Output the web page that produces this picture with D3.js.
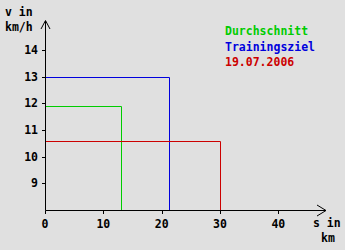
<!DOCTYPE html>
<html>
<head>
<meta charset="utf-8">
<script src="https://cdn.jsdelivr.net/npm/d3@7"></script>
<style>
  html, body { margin: 0; padding: 0; background: #e0e0e0; }
  svg { display: block; }
  text { font-family: "DejaVu Sans Mono", monospace; font-weight: bold; font-size: 11.5px; }
</style>
</head>
<body>
<div id="chart"></div>
<script>
// series: Durchschnitt, Trainingsziel, 19.07.2006
const seriesNames = ['Durchschnitt', 'Trainingsziel', '19.07.2006'];
const distances = [13.1, 21.2, 30];   // s in km
const speeds = [11.9, 13, 10.6];      // v in km/h
const colors = ['#00cc00', '#0000dd', '#cc0000'];
const xTicks = [0, 10, 20, 30, 40];
const yTicks = [9, 10, 11, 12, 13, 14];

const width = 345, height = 250;

const x = d3.scaleLinear().domain([0, 48]).range([45, 325]);
const y = d3.scaleLinear().domain([8, 14]).range([210, 50]);

const svg = d3.select('#chart').append('svg')
  .attr('width', width)
  .attr('height', height);

svg.append('rect')
  .attr('width', width).attr('height', height)
  .attr('fill', '#e0e0e0');

const px = v => Math.round(v) + 0.5;

// data lines: horizontal from the v axis, then down to the s axis
let lines = svg.append('g').attr('fill', 'none').attr('stroke-width', 1);
seriesNames.forEach((name, i) => {
  let p = d3.path();
  p.moveTo(px(x(0)), px(y(speeds[i])));
  p.lineTo(px(x(distances[i])), px(y(speeds[i])));
  p.lineTo(px(x(distances[i])), px(y(8)));
  lines.append('path')
    .attr('d', p.toString())
    .attr('stroke', colors[i]);
});

// axes
let axes = svg.append('g').attr('stroke', '#000').attr('fill', 'none');
axes.append('line')
  .attr('x1', px(x(0))).attr('x2', px(x(0)))
  .attr('y1', 21).attr('y2', px(y(8)));
axes.append('line')
  .attr('x1', px(x(0))).attr('x2', 326)
  .attr('y1', px(y(8))).attr('y2', px(y(8)));
// arrow heads
axes.append('path').attr('d', `M${px(x(0)) - 4.5},29 L${px(x(0))},20.5 L${px(x(0)) + 4.5},29`);
axes.append('path').attr('d', `M317,205 L326,${px(y(8))} L317,216`);

// y ticks
let yt = svg.append('g');
yt.selectAll('line').data(yTicks).join('line')
  .attr('x1', 42).attr('x2', px(x(0)))
  .attr('y1', d => px(y(d))).attr('y2', d => px(y(d)))
  .attr('stroke', '#000');
yt.selectAll('text').data(yTicks).join('text')
  .attr('x', 38)
  .attr('y', d => y(d) + 4)
  .attr('text-anchor', 'end')
  .text(d => d);

// x ticks
let xt = svg.append('g');
xt.selectAll('line').data(xTicks).join('line')
  .attr('x1', d => px(x(d))).attr('x2', d => px(x(d)))
  .attr('y1', px(y(8))).attr('y2', 214)
  .attr('stroke', '#000');
xt.selectAll('text').data(xTicks).join('text')
  .attr('x', d => x(d))
  .attr('y', 228)
  .attr('text-anchor', 'middle')
  .text(d => d);

// axis titles
svg.append('text').attr('x', 5).attr('y', 16).text('v in');
svg.append('text').attr('x', 5).attr('y', 31).text('km/h');
svg.append('text').attr('x', 313).attr('y', 227).text('s in');
svg.append('text').attr('x', 321).attr('y', 242).text('km');

// legend
svg.append('g').selectAll('text').data(seriesNames).join('text')
  .attr('x', 225)
  .attr('y', (d, i) => 35 + i * 15.5)
  .attr('fill', (d, i) => colors[i])
  .text(d => d);
</script>
</body>
</html>
